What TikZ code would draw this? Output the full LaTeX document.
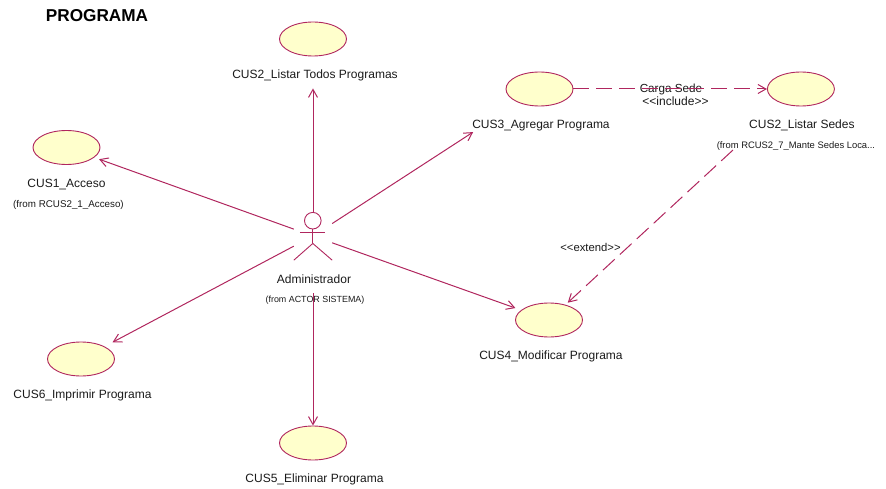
\documentclass[tikz,border=0pt]{standalone}
\usepackage{fontspec}
\setmainfont{Liberation Sans}
\usetikzlibrary{arrows.meta, graphs, positioning, shapes.geometric}

\definecolor{roseline}{HTML}{B0265E}
\definecolor{rosefill}{HTML}{FFFFCC}
\definecolor{rosetext}{HTML}{1A1A1A}

\tikzset{
    usecase/.style={draw=roseline, fill=rosefill, ellipse, line width=0.9pt, minimum width=67pt, minimum height=34pt, inner sep=0pt},
    caption/.style={inner sep=0pt, text=rosetext, font=\fontsize{12}{13}\selectfont},
    origin/.style={inner sep=0pt, text=rosetext, font=\fontsize{9.8}{11}\selectfont},
    stick/.style={draw=roseline, line width=0.9pt},
    link/.style={draw=roseline, line width=1pt},
    dashlink/.style={link, dash pattern=on 16pt off 7pt},
}

\begin{document}
\begin{tikzpicture}[x=1pt, y=-1pt, >={Straight Barb[length=8pt, width=9pt]}]
    \useasboundingbox (0,0) rectangle (886,489);

    \node[inner sep=0pt, font=\bfseries\fontsize{17.2}{19}\selectfont] (title) at (97,16) {PROGRAMA};

    \node[minimum width=38pt, minimum height=48pt, inner sep=0pt]   (actor)    at (313,236) {};
    \node[usecase]                                                  (cus 1)    at (66.5,147.5) {};
    \node[usecase]                                                  (cus 2)    at (313,39) {};
    \node[usecase]                                                  (cus 3)    at (539.5,89) {};
    \node[usecase, right=193.5pt of cus 3]                          (sedes)    {};
    \node[usecase]                                                  (cus 4)    at (549,320) {};
    \node[usecase]                                                  (cus 5)    at (313,443) {};
    \node[usecase]                                                  (cus 6)    at (81,359) {};

    \node[caption, below=13.5pt of cus 1, xshift=0pt]               (label 1)  {CUS1\_Acceso};
    \node[origin, below=11pt of label 1, xshift=2pt]                (from 1)   {(from RCUS2\_1\_Acceso)};
    \node[caption, below=13.5pt of cus 2, xshift=2pt]               (label 2)  {CUS2\_Listar Todos Programas};
    \node[caption, below=13.5pt of cus 3, xshift=1.5pt]             (label 3)  {CUS3\_Agregar Programa};
    \node[caption, below=13pt of sedes, xshift=1pt]                 (label s)  {CUS2\_Listar Sedes};
    \node[origin, font=\fontsize{9.4}{11}\selectfont, below=11pt of label s, xshift=-6pt] (from s) {(from RCUS2\_7\_Mante Sedes Loca...};
    \node[caption, below=13.5pt of cus 4, xshift=2pt]               (label 4)  {CUS4\_Modificar Programa};
    \node[caption, below=13.5pt of cus 5, xshift=1.5pt]             (label 5)  {CUS5\_Eliminar Programa};
    \node[caption, below=13pt of cus 6, xshift=1.5pt]               (label 6)  {CUS6\_Imprimir Programa};
    \node[caption, below=14pt of actor, xshift=1pt]                 (label a)  {Administrador};
    \node[origin, font=\fontsize{8.9}{11}\selectfont, below=12.5pt of label a, xshift=1pt] (from a) {(from ACTOR SISTEMA)};

    \node[caption, font=\fontsize{11.7}{13}\selectfont] (carga) at (671,89) {Carga Sede};
    \node[origin, font=\fontsize{12}{13}\selectfont, below=1.5pt of carga, xshift=4.5pt] (include) {<{}<include>{}>};
    \node[origin, font=\fontsize{11.3}{12}\selectfont] (extend) at (590.5,247) {<{}<extend>{}>};

    % stick figure
    \node[circle, stick, minimum size=16.6pt, inner sep=0pt] (head) at (312.8,220.7) {};
    \coordinate[below=14pt of head.south] (hip);
    \coordinate[below=3.3pt of head.south] (neck);
    \draw[stick] (head) -- (hip);
    \draw[stick] ([xshift=-13pt]neck) -- ([xshift=12pt]neck);
    \draw[stick] (actor.south west) -- (hip) -- (actor.south east);

    \coordinate (actor foot) at (313,293);
    \coordinate (sedes foot) at (733,150);

    \graph[edges={link}]{
    (actor) ->[shorten >=5pt] (cus 1);
    (actor) ->[shorten >=32pt] (cus 2);
    (actor) ->[shorten >=54pt] (cus 3);
    (actor) ->[shorten >=6pt] (cus 4);
    (actor) ->[shorten >=9pt] (cus 6);
    (actor foot) -> (cus 5);
    (cus 3) ->[dashlink] (sedes);
    (sedes foot) ->[dashlink, shorten >=3pt] (cus 4);
    };
\end{tikzpicture}
\end{document}
